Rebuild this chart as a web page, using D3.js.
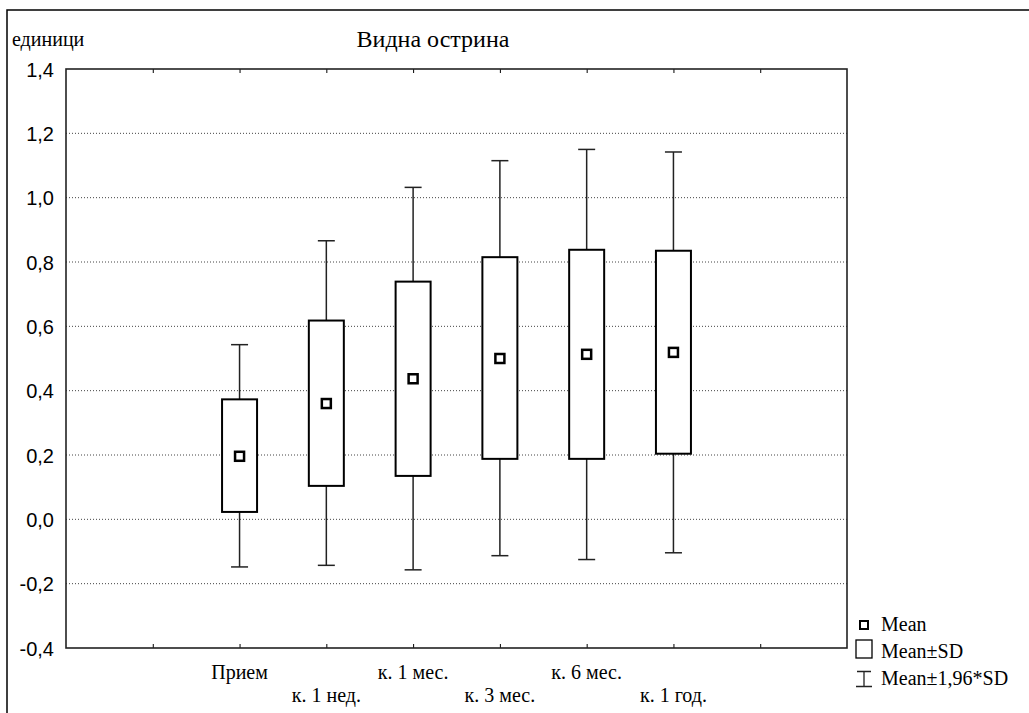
<!DOCTYPE html>
<html lang="bg">
<head>
    <meta charset="UTF-8">
    <script src="https://cdn.jsdelivr.net/npm/d3@7"></script>
    <title>Видна острина</title>
    <style>
        body { margin: 0; background: #fff; }
        .serif { font-family: "Liberation Serif", "Times New Roman", serif; fill: #000; }
        .sans { font-family: "Liberation Sans", Arial, sans-serif; fill: #000; }
        .grid-line { stroke: #444; stroke-width: 1; stroke-dasharray: 1,2; }
    </style>
</head>
<body>
    <div id="container"></div>
</body>
<script>
    const categories = ["Прием", "к. 1 нед.", "к. 1 мес.", "к. 3 мес.", "к. 6 мес.", "к. 1 год."];
    const means      = [0.196, 0.360, 0.437, 0.500, 0.513, 0.519];
    const sdLow      = [0.023, 0.104, 0.135, 0.188, 0.188, 0.204];
    const sdHigh     = [0.373, 0.618, 0.739, 0.815, 0.838, 0.835];
    const ciLow      = [-0.148, -0.143, -0.157, -0.113, -0.125, -0.104];
    const ciHigh     = [0.543, 0.866, 1.032, 1.115, 1.150, 1.142];
    const yTicks     = [-0.4, -0.2, 0.0, 0.2, 0.4, 0.6, 0.8, 1.0, 1.2, 1.4];
    const legendItems = ["Mean", "Mean±SD", "Mean±1,96*SD"];

    const width = 1029,
        height = 713;
    const plot = { left: 66, top: 69, right: 847, bottom: 648 };

    // categories sit on slots 2..7 of a 0..9 axis
    const xScale = d3.scaleLinear()
        .domain([0, 9])
        .range([plot.left, plot.right]);

    const yScale = d3.scaleLinear()
        .domain([-0.4, 1.4])
        .range([plot.bottom, plot.top]);

    const fmt = v => d3.format(".1f")(v).replace(".", ",").replace("−", "-");

    const svg = d3.select("#container")
        .append("svg")
        .attr("width", width)
        .attr("height", height);

    // outer frame
    svg.append("rect")
        .attr("x", 7).attr("y", 10)
        .attr("width", width).attr("height", height)
        .attr("fill", "none")
        .attr("stroke", "#000")
        .attr("stroke-width", 1.5);

    svg.append("text")
        .attr("class", "serif")
        .attr("x", 12).attr("y", 46)
        .style("font-size", "20px")
        .text("единици");

    svg.append("text")
        .attr("class", "serif")
        .attr("x", 433).attr("y", 47)
        .attr("text-anchor", "middle")
        .style("font-size", "24px")
        .text("Видна острина");

    // grid lines
    svg.append("g")
        .selectAll("line")
        .data(yTicks.slice(1, -1))
        .join("line")
        .classed("grid-line", true)
        .attr("x1", plot.left)
        .attr("x2", plot.right)
        .attr("y1", d => yScale(d))
        .attr("y2", d => yScale(d));

    // y axis labels
    const yAxis = d3.axisLeft(yScale)
        .tickValues(yTicks)
        .tickSize(0)
        .tickPadding(12)
        .tickFormat(fmt);

    const yg = svg.append("g")
        .attr("transform", `translate(${plot.left},0)`)
        .call(yAxis);
    yg.select(".domain").remove();
    yg.selectAll("text")
        .attr("class", "sans")
        .style("font-size", "20px")
        .attr("dy", "0.35em");

    // x ticks, inward, top and bottom
    const xTickVals = d3.range(1, 9);
    const xTop = d3.axisBottom(xScale).tickValues(xTickVals).tickSize(4).tickFormat("");
    const xBottom = d3.axisTop(xScale).tickValues(xTickVals).tickSize(4).tickFormat("");
    svg.append("g").attr("transform", `translate(0,${plot.top})`).call(xTop)
        .call(g => g.select(".domain").remove());
    svg.append("g").attr("transform", `translate(0,${plot.bottom})`).call(xBottom)
        .call(g => g.select(".domain").remove());

    // plot frame
    svg.append("rect")
        .attr("x", plot.left).attr("y", plot.top)
        .attr("width", plot.right - plot.left)
        .attr("height", plot.bottom - plot.top)
        .attr("fill", "none")
        .attr("stroke", "#222")
        .attr("stroke-width", 1.6);

    // x labels, staggered over two rows
    svg.append("g")
        .selectAll("text")
        .data(categories)
        .join("text")
        .attr("class", "serif")
        .attr("x", (d, i) => xScale(i + 2))
        .attr("y", (d, i) => i % 2 === 0 ? 679 : 702)
        .attr("text-anchor", "middle")
        .style("font-size", "20px")
        .text(d => d);

    const boxW = 35, capW = 17, meanS = 9;

    const boxes = svg.append("g")
        .selectAll("g")
        .data(categories)
        .join("g")
        .attr("transform", (d, i) => `translate(${xScale(i + 2)},0)`);

    // whiskers
    boxes.append("line")
        .attr("x1", 0).attr("x2", 0)
        .attr("y1", (d, i) => yScale(ciLow[i]))
        .attr("y2", (d, i) => yScale(ciHigh[i]))
        .attr("stroke", "#222").attr("stroke-width", 1.5);
    boxes.append("line")
        .attr("x1", -capW / 2).attr("x2", capW / 2)
        .attr("y1", (d, i) => yScale(ciLow[i]))
        .attr("y2", (d, i) => yScale(ciLow[i]))
        .attr("stroke", "#222").attr("stroke-width", 1.5);
    boxes.append("line")
        .attr("x1", -capW / 2).attr("x2", capW / 2)
        .attr("y1", (d, i) => yScale(ciHigh[i]))
        .attr("y2", (d, i) => yScale(ciHigh[i]))
        .attr("stroke", "#222").attr("stroke-width", 1.5);

    // SD box
    boxes.append("rect")
        .attr("x", -boxW / 2)
        .attr("width", boxW)
        .attr("y", (d, i) => yScale(sdHigh[i]))
        .attr("height", (d, i) => yScale(sdLow[i]) - yScale(sdHigh[i]))
        .attr("fill", "#fff")
        .attr("stroke", "#000")
        .attr("stroke-width", 2);

    // mean marker
    boxes.append("rect")
        .attr("x", -meanS / 2)
        .attr("y", (d, i) => yScale(means[i]) - meanS / 2)
        .attr("width", meanS).attr("height", meanS)
        .attr("fill", "#fff")
        .attr("stroke", "#000")
        .attr("stroke-width", 2.5);

    // legend
    const legend = svg.append("g").attr("transform", "translate(864,0)");
    legend.append("rect")
        .attr("x", -4).attr("y", 621)
        .attr("width", 8).attr("height", 8)
        .attr("fill", "#fff").attr("stroke", "#000").attr("stroke-width", 2);
    legend.append("rect")
        .attr("x", -8).attr("y", 640)
        .attr("width", 16).attr("height", 18)
        .attr("fill", "#fff").attr("stroke", "#000").attr("stroke-width", 1.3);
    legend.append("path")
        .attr("d", "M-7,671.5H7M0,671.5V686.5M-8,686.5H8")
        .attr("fill", "none").attr("stroke", "#222").attr("stroke-width", 1.3);
    legend.selectAll("text")
        .data(legendItems)
        .join("text")
        .attr("class", "serif")
        .attr("x", 17)
        .attr("y", (d, i) => [631, 658, 685][i])
        .style("font-size", "20px")
        .text(d => d);
</script>
</html>
